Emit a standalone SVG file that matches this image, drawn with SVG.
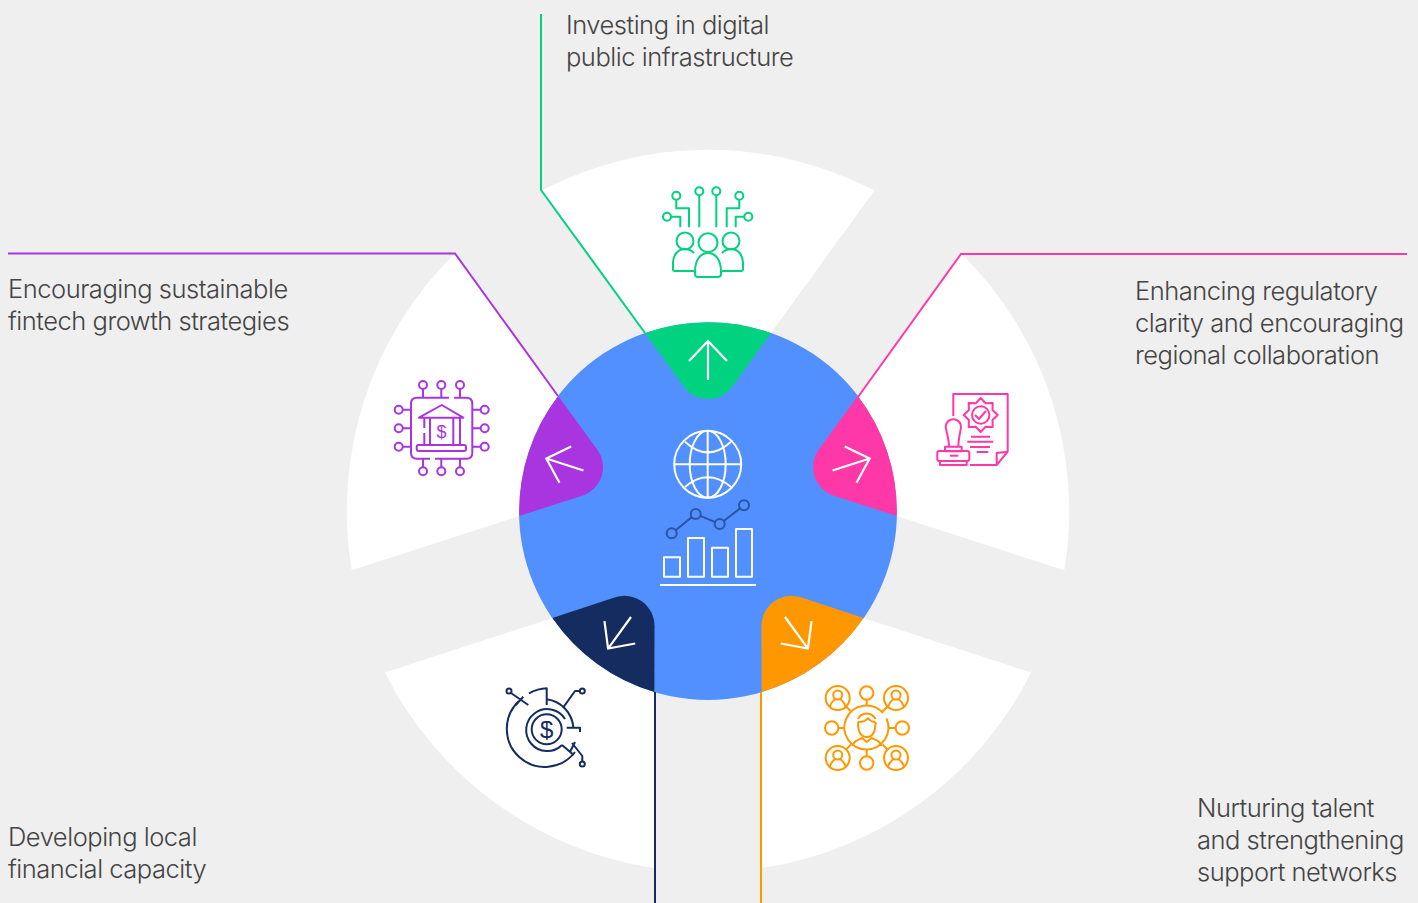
<svg xmlns="http://www.w3.org/2000/svg" xmlns:xlink="http://www.w3.org/1999/xlink" width="1418" height="903" viewBox="0 0 1418 903">
<style>
.lbl{font-family:"Inter","Liberation Sans",sans-serif;font-weight:300;font-size:25.5px;letter-spacing:-.48px;fill:#444}
.ic{fill:none;stroke-width:2;stroke-linecap:butt;stroke-linejoin:round}
.arrow{fill:none;stroke:#fff;stroke-width:2.2}
.conn{fill:none;stroke-width:2}
.sym{font-family:"Liberation Sans",sans-serif;text-anchor:middle}
</style>
<defs>
<path id="wedge" fill="#fff" d="M541.5,190.5A361,361 0 0 1 874.5,190.5L771,333A189,189 0 0 0 645,333Z"/>
<path id="tab" d="M645,333A189,189 0 0 1 771,333L732.3,386.6A30,30 0 0 1 683.7,386.6Z"/>
<path id="arr" class="arrow" d="M708,380V341M689,361L708,341L727,361"/>
<g id="p"><circle cx="0" cy="-3" r="4.5"/><path d="M-8,9C-7,4-4,3-3,1M8,9C7,4 4,3 3,1"/><circle cx="0" cy="0" r="12"/></g>
</defs>
<rect width="1418" height="903" fill="#efefef"/>

<g id="node-center">
<circle cx="708" cy="511" r="189" fill="#5290ff"/>
<g class="ic" stroke="#fff" stroke-width="2">
<circle cx="707.7" cy="464.3" r="33.5"/><ellipse cx="707.7" cy="464.3" rx="18" ry="33.5"/>
<path d="M707.7,430.8V497.8M674.2,464.3H741.2M685,441.7Q707.7,463 731,441.7M685,487Q707.7,467.6 731,487"/>
<rect x="664" y="557.3" width="16" height="19.4"/><rect x="688" y="538" width="16" height="38.7"/><rect x="712" y="547.7" width="16" height="29"/><rect x="736" y="529" width="16" height="47.7"/>
<path d="M660,585H756"/>
</g>
<g class="ic" stroke="#2a55a5"><circle cx="671.7" cy="533.3" r="5"/><circle cx="695.7" cy="514" r="5"/><circle cx="719.7" cy="524" r="5"/><circle cx="744" cy="505.3" r="5"/>
<path d="M675.6,530.2L691.8,517.1M700.3,515.9L715.1,522.1M723.7,521L740,508.4"/></g>
</g>

<g id="node-digital">
<use xlink:href="#wedge" href="#wedge"/>
<use xlink:href="#tab" href="#tab" fill="#00d27f"/>
<use xlink:href="#arr" href="#arr"/>
<g class="ic" stroke="#00d27f">
<circle cx="676.3" cy="195.7" r="4"/><circle cx="699.3" cy="191.3" r="4"/><circle cx="716.3" cy="191.3" r="4"/><circle cx="739.3" cy="195.7" r="4"/><circle cx="667" cy="216.7" r="4"/><circle cx="748.3" cy="216.7" r="4"/>
<path d="M676.3,199.7V208.3H689V227.3M671,216.7H680.3V227.3M699.3,195.3V227.3M716.3,195.3V227.3M739.3,199.7V208.3H726.7V227.3M744.3,216.7H735.7V227.3"/>
<circle cx="685" cy="241" r="8.5"/><circle cx="708" cy="242.7" r="9.5"/><circle cx="731" cy="241" r="8.5"/>
<path d="M694,253C691,250 689,249 685,249C678,249 673,255 673,263V269Q673,271 675,271H694M722,253C725,250 727,249 731,249C738,249 743,255 743,263V269Q743,271 741,271H722"/>
<path d="M695,272C695,259 701,253 708,253C715,253 721,259 721,272V274Q721,277 718,277H698Q695,277 695,274Z"/>
</g>
<text class="lbl" x="566" y="34">Investing in digital</text>
<text class="lbl" x="566" y="66">public infrastructure</text>
</g>

<g id="node-regulatory">
<use xlink:href="#wedge" href="#wedge" transform="rotate(72 708 511)"/>
<use xlink:href="#tab" href="#tab" fill="#ff38a8" transform="rotate(72 708 511)"/>
<use xlink:href="#arr" href="#arr" transform="rotate(72 708 511)"/>
<g class="ic" stroke="#ff38a8">
<path d="M953.3,416V394H1007.7V451.7L996.7,465H970M996.7,465V453L1007.7,451.7"/>
<path d="M980.7,398L985.6,403.2L992.7,403L992.5,410.1L997.7,415L992.5,419.9L992.7,427L985.6,426.8L980.7,432L975.8,426.8L968.7,427L968.9,419.9L963.7,415L968.9,410.1L968.7,403L975.8,403.2Z"/>
<circle cx="980.7" cy="415" r="8.7"/><path d="M975,415L979,419L986,411"/>
<path d="M971,436.7H990M967.3,441.7H993.3M970,447H990M976.7,452H988.3"/>
<path d="M949,447C949,438 945.7,430 945.7,426.7C945.7,421.7 950,419.3 953.3,419.3C956.7,419.3 961,421.7 961,426.7C961,430 958.3,438 958.3,447"/>
<rect x="945" y="446.7" width="16.7" height="4.5"/><rect x="937.3" y="451" width="32" height="10" rx="2"/><rect x="940" y="461" width="26.7" height="4"/>
<path d="M950,455.7H958.3"/>
</g>
<text class="lbl" x="1135" y="300">Enhancing regulatory</text>
<text class="lbl" x="1135" y="332">clarity and encouraging</text>
<text class="lbl" x="1135" y="364">regional collaboration</text>
</g>

<g id="node-talent">
<use xlink:href="#wedge" href="#wedge" transform="rotate(144 708 511)"/>
<use xlink:href="#tab" href="#tab" fill="#ff9800" transform="rotate(144 708 511)"/>
<use xlink:href="#arr" href="#arr" transform="rotate(144 708 511)"/>
<g class="ic" stroke="#ff9800">
<path d="M886.5,718.5A22,22 0 1 1 883,713"/>
<circle cx="866.7" cy="693" r="6.7"/><circle cx="831.7" cy="728" r="6.7"/><circle cx="902.3" cy="728" r="6.7"/><circle cx="866.7" cy="763" r="6.7"/>
<path d="M866.7,699.7V706M838.4,728H844.7M888.7,728H895.6M866.7,750V756.3M846,706.5L851,711.5M887.7,706.5L882.5,711.5M846,749.5L851,744.5M887.7,749.5L882.5,744.5"/>
<use xlink:href="#p" href="#p" x="837.7" y="698"/><use xlink:href="#p" href="#p" x="896" y="698"/><use xlink:href="#p" href="#p" x="837.7" y="758"/><use xlink:href="#p" href="#p" x="896" y="758"/>
<path d="M858,722C858,733 862,737 866.7,737C871.5,737 875.5,733 875.5,722M858,722C863,722 866,721 868,718C870,721 872,722 875.5,722M858,719Q860,714 866.7,713.5Q873,714 875.5,719"/>
<path d="M853,746C853,741 858,740 862,738L866.7,742L871.5,738C875.5,740 881,741 881,746"/>
</g>
<text class="lbl" x="1197" y="817">Nurturing talent</text>
<text class="lbl" x="1197" y="849">and strengthening</text>
<text class="lbl" x="1197" y="881">support networks</text>
</g>

<g id="node-capacity">
<use xlink:href="#wedge" href="#wedge" transform="rotate(216 708 511)"/>
<use xlink:href="#tab" href="#tab" fill="#152c61" transform="rotate(216 708 511)"/>
<use xlink:href="#arr" href="#arr" transform="rotate(216 708 511)"/>
<g class="ic" stroke="#152c61">
<path d="M518.5,701.5A38,38 0 1 0 575,752M529,693.3Q538,688.5 546.7,688.3V705M546.7,699.3A30.7,30.7 0 0 1 573.3,727"/>
<circle cx="546.7" cy="729.3" r="15"/>
<path d="M562,745A21,21 0 1 1 565,719"/>
<path d="M562,745L573.7,755M566.7,727.7H580V732"/>
<circle cx="509" cy="691" r="2.5"/><path d="M511,693L528.3,705M515.7,705L523.3,696.7"/>
<circle cx="582.3" cy="691" r="2.5"/><path d="M579.8,691H575L563.3,707.3"/>
<circle cx="582.3" cy="764" r="2.5"/><path d="M582.3,761.5V756L572,743M570,752L575,742"/>
</g>
<text class="sym" x="546.7" y="737.5" font-size="24" fill="#152c61">$</text>
<text class="lbl" x="8" y="846">Developing local</text>
<text class="lbl" x="8" y="878">financial capacity</text>
</g>

<g id="node-sustainable">
<use xlink:href="#wedge" href="#wedge" transform="rotate(288 708 511)"/>
<use xlink:href="#tab" href="#tab" fill="#a935e0" transform="rotate(288 708 511)"/>
<use xlink:href="#arr" href="#arr" transform="rotate(288 708 511)"/>
<g class="ic" stroke="#a935e0">
<path d="M449,397.7H417Q411,397.7 411,403.7V452.7Q411,458.7 417,458.7H430M435,458.7H466.3Q472.3,458.7 472.3,452.7V403.7Q472.3,397.7 466.3,397.7H454"/>
<circle cx="423" cy="385" r="4"/><circle cx="441.3" cy="385" r="4"/><circle cx="460" cy="385" r="4"/>
<circle cx="423" cy="471.3" r="4"/><circle cx="441.3" cy="471.3" r="4"/><circle cx="460" cy="471.3" r="4"/>
<circle cx="398.7" cy="409.7" r="4"/><circle cx="398.7" cy="428.3" r="4"/><circle cx="398.7" cy="446.7" r="4"/>
<circle cx="484.7" cy="409.7" r="4"/><circle cx="484.7" cy="428.3" r="4"/><circle cx="484.7" cy="446.7" r="4"/>
<path d="M423,389V397.7M441.3,389V397.7M460,389V397.7M423,458.7V467.3M441.3,458.7V467.3M460,458.7V467.3M402.7,409.7H411M402.7,428.3H411M402.7,446.7H411M472.3,409.7H480.7M472.3,428.3H480.7M472.3,446.7H480.7"/>
<path d="M419,417.7L441.7,405L463.3,417.7Z"/>
<path d="M424.3,418V428M424.3,433V445M430,418V445M453.3,418V445M460,418V445"/>
<rect x="416.7" y="445" width="49.3" height="6" rx="2"/>
</g>
<text class="sym" x="441.5" y="438" font-size="18" fill="#a935e0">$</text>
<text class="lbl" x="8" y="298">Encouraging sustainable</text>
<text class="lbl" x="8" y="330">fintech growth strategies</text>
</g>

<g id="connectors">
<path class="conn" stroke="#00d27f" d="M541,14V190L645,333"/>
<path class="conn" stroke="#ff38a8" d="M1407,254H961L858,397"/>
<path class="conn" stroke="#ff9800" d="M761,692V903"/>
<path class="conn" stroke="#152c61" d="M655,692V903"/>
<path class="conn" stroke="#a935e0" d="M8,253.5H455L558,396"/>
</g>
</svg>
